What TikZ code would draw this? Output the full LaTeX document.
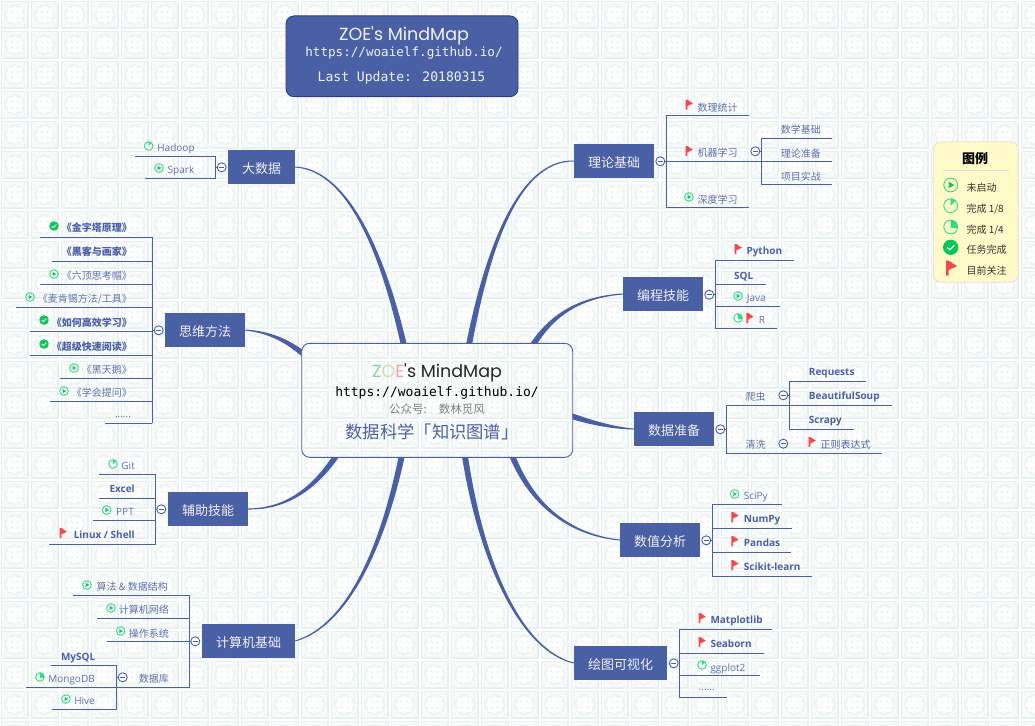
\documentclass[tikz,border=0pt]{standalone}
\usepackage{fontspec}
\usetikzlibrary{calc,patterns}
\setmainfont{Noto Sans CJK SC}
\newfontfamily\latf{Open Sans}
\newfontfamily\titf{Poppins}
\newfontfamily\monf{DejaVu Sans Mono}
\definecolor{mainblue}{HTML}{4A60A5}
\definecolor{softblue}{HTML}{5E70AB}
\definecolor{iconleaf}{HTML}{2FDC83}
\definecolor{iconok}{HTML}{0CC85A}
\definecolor{iconflag}{HTML}{F2494B}
\definecolor{tilea}{HTML}{E8F1F1}
\definecolor{tileb}{HTML}{F9FBFB}
\definecolor{tilec}{HTML}{EDF4F4}
\newcommand\tilecirc[3]{\pgfpathcircle{\pgfpoint{#1pt}{#2pt}}{#3pt}}
\pgfdeclarepatterninherentlycolored{tilepat}{\pgfqpoint{0pt}{5pt}}{\pgfqpoint{30pt}{35pt}}{\pgfqpoint{30pt}{30pt}}{%
  \pgfsetfillcolor{white}%
  \pgfpathrectangle{\pgfqpoint{0pt}{5pt}}{\pgfqpoint{30pt}{30pt}}\pgfusepath{fill}%
  \pgfsetfillcolor{tileb}\pgfsetstrokecolor{tilea}\pgfsetlinewidth{1.1pt}%
  \pgfpathrectangle{\pgfqpoint{1.5pt}{7pt}}{\pgfqpoint{26.5pt}{26.5pt}}\pgfusepath{fill,stroke}%
  \pgfsetfillcolor{tilec}\tilecirc{14.75}{20.25}{10.5}\pgfusepath{fill}%
  \tilecirc{4.5}{10}{1.2}\tilecirc{25}{10}{1.2}\tilecirc{4.5}{30.5}{1.2}\tilecirc{25}{30.5}{1.2}\pgfusepath{fill}%
  \pgfsetfillcolor{white}%
  \tilecirc{14.75}{20.25}{2.8}\tilecirc{20.25}{20.25}{3.2}\tilecirc{9.25}{20.25}{3.2}\tilecirc{14.75}{25.75}{3.2}\tilecirc{14.75}{14.75}{3.2}%
  \tilecirc{20}{25.5}{2.2}\tilecirc{9.5}{25.5}{2.2}\tilecirc{20}{15}{2.2}\tilecirc{9.5}{15}{2.2}\pgfusepath{fill}%
}
\newcommand\UL[4]{\coordinate (#1) at (#3,#4); \draw[conn] (#2 |- #1) -- (#1);}
\newcommand\taper[4]{%
  \fill[mainblue]
    ($(#1)!0.5pt!90:(#2)$) .. controls ($(#2)!1.1pt!-90:(#1)$) and ($(#3)!2.4pt!90:(#4)$) .. ($(#4)!3pt!-90:(#3)$)
    -- ($(#4)!3pt!90:(#3)$) .. controls ($(#3)!2.4pt!-90:(#4)$) and ($(#2)!1.1pt!90:(#1)$) .. ($(#1)!0.5pt!-90:(#2)$) -- cycle;}
\tikzset{
  conn/.style={draw=mainblue,line width=.9pt},
  topic/.style={fill=mainblue,text=white!92!mainblue,minimum width=80pt,minimum height=34pt,inner sep=0pt,text height=12.5pt,text depth=.5pt,font=\fontsize{13}{15}\selectfont},
  collapse/.style={circle,draw=mainblue,line width=.9pt,fill=white,minimum size=9pt,inner sep=0pt,
    path picture={\draw[mainblue,line width=.8pt] ([xshift=-2.6pt]path picture bounding box.center) -- ([xshift=2.6pt]path picture bounding box.center);}},
  txt/.style={inner sep=0pt,text height=9.5pt,text depth=.5pt},
  cnr/.style={txt,text=softblue,font=\fontsize{10}{12}\selectfont},
  cnb/.style={txt,text=mainblue,font=\fontsize{10}{12}\bfseries\selectfont},
  lar/.style={txt,text=softblue,font=\latf\fontsize{10}{12}\selectfont},
  lab/.style={txt,text=mainblue,font=\latf\fontsize{10}{12}\bfseries\selectfont},
  lgd/.style={txt,anchor=west,text=black!80,font=\fontsize{10}{12}\selectfont},
  icplay/.pic={
    \draw[iconleaf,line width=.9pt] (0,0) circle[radius=4.3];
    \fill[iconleaf!85!black] (-1.3,-2.1) -- (2.3,0) -- (-1.3,2.1) -- cycle;
  },
  iceighth/.pic={
    \draw[iconleaf,line width=.9pt] (0,0) circle[radius=4.3];
    \begin{scope}\clip (0,0) -- (0,-6) -- (6,-6) -- cycle;\fill[iconleaf] (0,0) circle[radius=4.3];\end{scope}
  },
  icquarter/.pic={
    \draw[iconleaf,line width=.9pt] (0,0) circle[radius=4.3];
    \begin{scope}\clip (0,0) rectangle (6,-6);\fill[iconleaf] (0,0) circle[radius=4.3];\end{scope}
  },
  iccheck/.pic={
    \fill[iconok] (0,0) circle[radius=4.8];
    \draw[white,line width=1pt] (-2.2,0.1) -- (-.6,1.6) -- (2.3,-1.3);
  },
  icflag/.pic={
    \fill[iconflag] (-3.6,-5) -- (-2,-5) -- (3.7,-1.2) -- (-2,1.4) -- (-2,5) -- (-3.6,5) -- cycle;
  },
}
\begin{document}
\begin{tikzpicture}[x=1pt,y=-1pt]
\useasboundingbox (0,0) rectangle (1035,725);
\fill[pattern=tilepat] (0,0) rectangle (1035,725);

% header
\node[fill=mainblue,draw=mainblue!70!black!90!blue,line width=.9pt,rounded corners=8pt,minimum width=232pt,minimum height=80.7pt,inner sep=0pt] (header) at (402,56.3) {};
\node[inner sep=0pt,text=white!92!mainblue,font=\titf\fontsize{17.5}{20}\selectfont] (headtitle) at (404,35.7) {ZOE's MindMap};
\node[inner sep=0pt,text=white!92!mainblue,font=\monf\fontsize{12.6}{15}\selectfont] (headurl) at (404,53.3) {https://woaielf.github.io/};
\node[inner sep=0pt,text=white!92!mainblue,font=\monf\fontsize{13.05}{15}\selectfont] (headdate) at (401.5,77.5) {Last Update: 20180315};

% centre
\node[draw=mainblue,line width=.9pt,rounded corners=8pt,minimum width=271pt,minimum height=114pt,inner sep=0pt] (centre) at (437.2,400.3) {};
\node[inner sep=0pt,font=\titf\fontsize{17.5}{20}\selectfont] (centitle) at (437,373) {\textcolor[HTML]{7FD8AE}{Z}\textcolor[HTML]{CBE3A4}{O}\textcolor[HTML]{F7A0A3}{E}\textcolor{black!85}{'s MindMap}};
\node[inner sep=0pt,text=black,font=\monf\fontsize{13}{15}\selectfont] (cenurl) at (437,392.7) {https://woaielf.github.io/};
\node[inner sep=0pt,text=black!50,font=\fontsize{11.5}{13}\selectfont] (cengzh) at (437,409) {公众号:\hspace{12pt}数林觅风};
\node[inner sep=0pt,text=mainblue,font=\fontsize{17.3}{20}\selectfont] (censub) at (432,432) {数据科学「知识图谱」};

% topics
\node[topic,minimum width=67pt] (dsj) at (261.5,167) {大数据};
\node[topic] (swff) at (205,330) {思维方法};
\node[topic] (fzjn) at (208,509) {辅助技能};
\node[topic,minimum width=93pt] (jsj) at (248.5,641) {计算机基础};
\node[topic] (lljc) at (614,161) {理论基础};
\node[topic] (bcjn) at (663,294) {编程技能};
\node[topic] (sjzb) at (674,429) {数据准备};
\node[topic] (szfx) at (660,540) {数值分析};
\node[topic,minimum width=93pt] (htksh) at (620.5,663) {绘图可视化};

% big branches
\coordinate (e1) at (405,350);
\coordinate (e2) at (308,358);
\coordinate (e3) at (340,450);
\coordinate (e4) at (403,450);
\coordinate (e5) at (468,350);
\coordinate (e6) at (530,350);
\coordinate (e7) at (565,414);
\coordinate (e8) at (510,450);
\coordinate (e9) at (464,450);
\begin{scope}[even odd rule]
\clip (0,0) rectangle (1035,725) [rounded corners=8pt] (301.7,343.3) rectangle (572.7,457.3);
\taper{dsj.east}{350,170}{385,260}{e1}
\taper{swff.east}{268,332}{288,340}{e2}
\taper{fzjn.east}{285,509}{315,490}{e3}
\taper{jsj.east}{350,625}{385,540}{e4}
\taper{lljc.west}{515,160}{485,260}{e5}
\taper{bcjn.west}{580,297}{550,315}{e6}
\taper{sjzb.west}{615,428}{595,424}{e7}
\taper{szfx.west}{570,535}{530,505}{e8}
\taper{htksh.west}{520,650}{480,560}{e9}
\end{scope}

% ---- 大数据
\coordinate (b1t) at (215.7,156.3); \coordinate (b1b) at (215.7,178.3);
\draw[conn] (b1t) -- (b1b);
\UL{u11}{b1t}{135}{156.3}
\UL{u12}{b1t}{145}{178.3}
\node[collapse] (c1) at (221.7,167.3) {};
\draw[conn] (c1) -- (c1 -| b1t);
\pic at (148.7,146) {iceighth};
\node[lar,anchor=center] (t11) at (176,147.3) {Hadoop};
\pic at (159,168) {icplay};
\node[lar,anchor=center] (t12) at (181,169.3) {Spark};

% ---- 思维方法
\coordinate (b2t) at (152.3,237.3); \coordinate (b2b) at (152.3,423.3);
\draw[conn] (b2t) -- (b2b);
\UL{u21}{b2t}{40}{237.3}
\UL{u22}{b2t}{52}{261.3}
\UL{u23}{b2t}{40}{284.3}
\UL{u24}{b2t}{16}{307.3}
\UL{u25}{b2t}{30}{331}
\UL{u26}{b2t}{30}{355.3}
\UL{u27}{b2t}{60}{378.3}
\UL{u28}{b2t}{50}{401.3}
\UL{u29}{b2t}{105}{423.3}
\node[collapse] (c2) at (158.7,330.3) {};
\draw[conn] (c2) -- (c2 -| b2t);
\pic at (54,226) {iccheck};
\node[cnb,anchor=east] (t21) at (132,227.3) {《金字塔原理》};
\node[cnb,anchor=east] (t22) at (132,251.3) {《黑客与画家》};
\pic at (54,274) {icplay};
\node[cnr,anchor=east] (t23) at (132,275) {《六顶思考帽》};
\pic at (30,297) {icplay};
\node[cnr,anchor=east] (t24) at (132,298.3) {《麦肯锡方法/工具》};
\pic at (44,320) {iccheck};
\node[cnb,anchor=east] (t25) at (132,321.5) {《如何高效学习》};
\pic at (44,344) {iccheck};
\node[cnb,anchor=east] (t26) at (132,345.5) {《超级快速阅读》};
\pic at (74,368) {icplay};
\node[cnr,anchor=east] (t27) at (132,368.7) {《黑天鹅》};
\pic at (64,391) {icplay};
\node[cnr,anchor=east] (t28) at (132,392) {《学会提问》};
\node[lar,anchor=center] (t29) at (123,412.5) {......};

% ---- 辅助技能
\coordinate (b3t) at (155.7,474.3); \coordinate (b3b) at (155.7,544.3);
\draw[conn] (b3t) -- (b3b);
\UL{u31}{b3t}{99}{474.3}
\UL{u32}{b3t}{99}{498.3}
\UL{u33}{b3t}{93}{520.3}
\UL{u34}{b3t}{49}{544.3}
\node[collapse] (c3) at (161.3,509.3) {};
\draw[conn] (c3) -- (c3 -| b3t);
\pic at (113,464) {iceighth};
\node[lar,anchor=east] (t31) at (135,465.3) {Git};
\node[lab,anchor=east] (t32) at (135,488.3) {Excel};
\pic at (106.7,510) {icplay};
\node[lar,anchor=east] (t33) at (134,511.3) {PPT};
\pic at (63.3,533) {icflag};
\node[lab,anchor=east] (t34) at (135,534.3) {Linux / Shell};

% ---- 计算机基础
\coordinate (b4t) at (189.7,595.3); \coordinate (b4b) at (189.7,687.3);
\draw[conn] (b4t) -- (b4b);
\UL{u41}{b4t}{73}{595.3}
\UL{u42}{b4t}{97}{618.3}
\UL{u43}{b4t}{107}{641.3}
\UL{u44}{b4t}{26}{687.3}
\node[collapse] (c4) at (195.3,641.3) {};
\draw[conn] (c4) -- (c4 -| b4t);
\pic at (87,585) {icplay};
\node[cnr,anchor=east] (t41) at (168,586.3) {算法 \& 数据结构};
\pic at (111,608) {icplay};
\node[cnr,anchor=east] (t42) at (169,609.3) {计算机网络};
\pic at (120.7,631) {icplay};
\node[cnr,anchor=east] (t43) at (169,632.5) {操作系统};
\node[cnr,anchor=east] (t44) at (169,678.3) {数据库};
\coordinate (b5t) at (116.7,665.3); \coordinate (b5b) at (116.7,709.3);
\draw[conn] (b5t) -- (b5b);
\UL{u51}{b5t}{51}{665.3}
\UL{u52}{b5t}{52}{709.3}
\node[collapse] (c5) at (122.7,677.3) {};
\draw[conn] (c5) -- (c5 -| b5t);
\node[lab,anchor=east] (t51) at (95.5,655.7) {MySQL};
\pic at (40,677) {icquarter};
\node[lar,anchor=east] (t52) at (95,678.3) {MongoDB};
\pic at (66,699) {icplay};
\node[lar,anchor=east] (t53) at (95,700.3) {Hive};

% ---- 理论基础
\coordinate (b6t) at (666.3,115.3); \coordinate (b6b) at (666.3,207.3);
\draw[conn] (b6t) -- (b6b);
\UL{u61}{b6t}{749}{115.3}
\UL{u62}{b6t}{832}{161.3}
\UL{u63}{b6t}{749}{207.3}
\node[collapse] (c6) at (660.3,161.3) {};
\draw[conn] (c6) -- (c6 -| b6t);
\pic at (689.3,104.7) {icflag};
\node[cnr,anchor=west] (t61) at (697.3,106.7) {数理统计};
\pic at (689.3,151) {icflag};
\node[cnr,anchor=west] (t62) at (697.3,152.3) {机器学习};
\pic at (689,197) {icplay};
\node[cnr,anchor=west] (t63) at (697.3,198.5) {深度学习};
\coordinate (b7t) at (761.3,138.3); \coordinate (b7b) at (761.3,184.3);
\draw[conn] (b7t) -- (b7b);
\UL{u71}{b7t}{832}{138.3}
\UL{u72}{b7t}{832}{184.3}
\node[collapse] (c7) at (755.3,151.3) {};
\draw[conn] (c7) -- (c7 -| b7t);
\node[cnr,anchor=west] (t71) at (780.7,129.3) {数学基础};
\node[cnr,anchor=west] (t72) at (780.7,152.5) {理论准备};
\node[cnr,anchor=west] (t73) at (780.7,175.5) {项目实战};

% ---- 编程技能
\coordinate (b8t) at (715.3,260.3); \coordinate (b8b) at (715.3,328.3);
\draw[conn] (b8t) -- (b8b);
\UL{u81}{b8t}{794}{260.3}
\UL{u82}{b8t}{766}{284.3}
\UL{u83}{b8t}{780}{306.3}
\UL{u84}{b8t}{777}{328.3}
\node[collapse] (c8) at (709.3,294.7) {};
\draw[conn] (c8) -- (c8 -| b8t);
\pic at (738.3,249) {icflag};
\node[lab,anchor=west] (t81) at (746.3,250.3) {Python};
\node[lab,anchor=west] (t82) at (734,274.7) {SQL};
\pic at (738,296) {icplay};
\node[lar,anchor=west] (t83) at (746.7,297) {Java};
\pic at (738,318) {icquarter};
\pic at (750,318) {icflag};
\node[lar,anchor=west] (t84) at (758.7,319.3) {R};

% ---- 数据准备
\coordinate (b9t) at (726.3,405.3); \coordinate (b9b) at (726.3,453.3);
\draw[conn] (b9t) -- (b9b);
\UL{u91}{b9t}{892}{405.3}
\UL{u92}{b9t}{882}{453.3}
\node[collapse] (c9) at (720.3,429.3) {};
\draw[conn] (c9) -- (c9 -| b9t);
\node[cnr,anchor=west] (t91) at (745.3,396.3) {爬虫};
\node[cnr,anchor=west] (t92) at (745.3,444.3) {清洗};
\coordinate (bAt) at (789.3,381.3); \coordinate (bAb) at (789.3,429.3);
\draw[conn] (bAt) -- (bAb);
\UL{uA1}{bAt}{866}{381.3}
\UL{uA2}{bAt}{854}{429.3}
\node[collapse] (cA) at (783.3,395.3) {};
\draw[conn] (cA) -- (cA -| bAt);
\node[collapse] (cB) at (783.3,443.7) {};
\node[lab,anchor=west] (tA1) at (808.7,371.3) {Requests};
\node[lab,anchor=west] (tA2) at (808.7,395.3) {BeautifulSoup};
\node[lab,anchor=west] (tA3) at (808.7,419.3) {Scrapy};
\pic at (812.3,442) {icflag};
\node[cnr,anchor=west,text=mainblue] (tA4) at (820.3,443.7) {正则表达式};

% ---- 数值分析
\coordinate (bCt) at (712.3,504.3); \coordinate (bCb) at (712.3,576.3);
\draw[conn] (bCt) -- (bCb);
\UL{uC1}{bCt}{782}{504.3}
\UL{uC2}{bCt}{792}{528.3}
\UL{uC3}{bCt}{791}{552.3}
\UL{uC4}{bCt}{812}{576.3}
\node[collapse] (cC) at (706.3,540.3) {};
\draw[conn] (cC) -- (cC -| bCt);
\pic at (734.7,494) {icplay};
\node[lar,anchor=west] (tC1) at (743.7,495.3) {SciPy};
\pic at (735,517) {icflag};
\node[lab,anchor=west] (tC2) at (743.7,518.3) {NumPy};
\pic at (735,541) {icflag};
\node[lab,anchor=west] (tC3) at (743.7,542.3) {Pandas};
\pic at (735,565) {icflag};
\node[lab,anchor=west] (tC4) at (743.7,566.3) {Scikit-learn};

% ---- 绘图可视化
\coordinate (bDt) at (679.3,629.3); \coordinate (bDb) at (679.3,697.3);
\draw[conn] (bDt) -- (bDb);
\UL{uD1}{bDt}{772}{629.3}
\UL{uD2}{bDt}{764}{653.3}
\UL{uD3}{bDt}{760}{675.3}
\UL{uD4}{bDt}{727}{697.3}
\node[collapse] (cD) at (673.7,663.3) {};
\draw[conn] (cD) -- (cD -| bDt);
\pic at (702.3,618) {icflag};
\node[lab,anchor=west] (tD1) at (710.3,619.3) {Matplotlib};
\pic at (702.3,642) {icflag};
\node[lab,anchor=west] (tD2) at (710.3,643.3) {Seaborn};
\pic at (702,665) {iceighth};
\node[lar,anchor=west] (tD3) at (710.3,666.7) {ggplot2};
\node[lar,anchor=center] (tD4) at (706.7,686) {......};

% legend
\node[fill=yellow!20!white!98!orange,draw=black!12,line width=.8pt,rounded corners=8pt,minimum width=85pt,minimum height=140.6pt,inner sep=0pt] (legend) at (975.8,212) {};
\node[inner sep=0pt,font=\fontsize{13}{15}\bfseries\selectfont,text=black] (legtitle) at (975,158.3) {图例};
\coordinate (ld1) at (943,170.3); \coordinate (ld2) at (1009,170.3);
\draw[black!13,line width=.8pt] (ld1) -- (ld2);
\pic[scale=1.6] at (950.7,185) {icplay};
\node[lgd] (l1) at (966.3,186.7) {未启动};
\pic[scale=1.6] at (950.7,205.7) {iceighth};
\node[lgd] (l2) at (966.3,207.5) {完成 1/8};
\pic[scale=1.6] at (950.7,227) {icquarter};
\node[lgd] (l3) at (966.3,228.5) {完成 1/4};
\pic[scale=1.6] at (950.7,247.3) {iccheck};
\node[lgd] (l4) at (966.3,249) {任务完成};
\pic[scale=1.5] at (951.5,268) {icflag};
\node[lgd] (l5) at (966.3,270) {目前关注};
\end{tikzpicture}
\end{document}
